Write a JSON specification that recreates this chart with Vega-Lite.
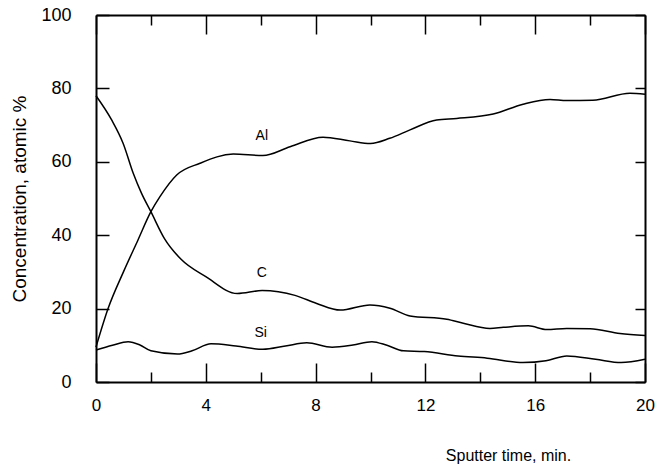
{
  "$schema": "https://vega.github.io/schema/vega-lite/v6.json",
  "autosize": "none",
  "width": 549,
  "height": 367,
  "padding": {"left": 96, "top": 15, "right": 13, "bottom": 83},
  "background": "white",
  "config": {
    "view": {"stroke": null},
    "axis": {
      "grid": false,
      "domainColor": "black",
      "domainWidth": 2,
      "tickColor": "black",
      "tickWidth": 1.5,
      "labelColor": "black",
      "labelFont": "Liberation Sans",
      "labelFontSize": 17,
      "titleFont": "Liberation Sans",
      "titleColor": "black",
      "titleFontWeight": "normal",
      "titleFontSize": 16
    }
  },
  "datasets": {
    "curves": [
      {"element": "Al", "t": 0, "c": 9.5},
      {"element": "Al", "t": 0.44, "c": 20},
      {"element": "Al", "t": 1.0, "c": 30},
      {"element": "Al", "t": 1.53, "c": 38.7},
      {"element": "Al", "t": 2.0, "c": 46.4},
      {"element": "Al", "t": 2.33, "c": 50.5},
      {"element": "Al", "t": 2.94, "c": 56.4},
      {"element": "Al", "t": 3.79, "c": 59.6},
      {"element": "Al", "t": 5.0, "c": 62.1},
      {"element": "Al", "t": 6.08, "c": 61.7},
      {"element": "Al", "t": 7.07, "c": 64.1},
      {"element": "Al", "t": 8.27, "c": 66.7},
      {"element": "Al", "t": 9.25, "c": 65.7},
      {"element": "Al", "t": 10.0, "c": 65.0},
      {"element": "Al", "t": 10.7, "c": 66.4},
      {"element": "Al", "t": 11.44, "c": 68.7},
      {"element": "Al", "t": 12.41, "c": 71.4},
      {"element": "Al", "t": 13.14, "c": 71.8},
      {"element": "Al", "t": 14.47, "c": 73.0},
      {"element": "Al", "t": 15.56, "c": 75.7},
      {"element": "Al", "t": 16.54, "c": 77.0},
      {"element": "Al", "t": 17.15, "c": 76.7},
      {"element": "Al", "t": 18.1, "c": 76.8},
      {"element": "Al", "t": 19.45, "c": 78.7},
      {"element": "Al", "t": 20, "c": 78.4},
      {"element": "C", "t": 0, "c": 78},
      {"element": "C", "t": 0.57, "c": 71.4},
      {"element": "C", "t": 0.99, "c": 65},
      {"element": "C", "t": 1.36, "c": 56.8},
      {"element": "C", "t": 1.66, "c": 51.4},
      {"element": "C", "t": 2.0, "c": 46.4},
      {"element": "C", "t": 2.5, "c": 39},
      {"element": "C", "t": 3.09, "c": 33.5},
      {"element": "C", "t": 4.0, "c": 28.7},
      {"element": "C", "t": 5.15, "c": 24.1},
      {"element": "C", "t": 6.05, "c": 24.9},
      {"element": "C", "t": 7.25, "c": 23.6},
      {"element": "C", "t": 8.04, "c": 21.4},
      {"element": "C", "t": 8.9, "c": 19.6},
      {"element": "C", "t": 9.98, "c": 21.0},
      {"element": "C", "t": 10.71, "c": 20.1},
      {"element": "C", "t": 11.44, "c": 18.0},
      {"element": "C", "t": 12.78, "c": 17.1},
      {"element": "C", "t": 13.38, "c": 16.0},
      {"element": "C", "t": 14.35, "c": 14.6},
      {"element": "C", "t": 14.84, "c": 14.9},
      {"element": "C", "t": 15.75, "c": 15.3},
      {"element": "C", "t": 16.42, "c": 14.3},
      {"element": "C", "t": 17.15, "c": 14.6},
      {"element": "C", "t": 18.0, "c": 14.5},
      {"element": "C", "t": 19.09, "c": 13.2},
      {"element": "C", "t": 20, "c": 12.7},
      {"element": "Si", "t": 0, "c": 8.7},
      {"element": "Si", "t": 0.6, "c": 10},
      {"element": "Si", "t": 1.17, "c": 11.0},
      {"element": "Si", "t": 1.6, "c": 10.1},
      {"element": "Si", "t": 2.0, "c": 8.5},
      {"element": "Si", "t": 2.97, "c": 7.6},
      {"element": "Si", "t": 3.5, "c": 8.5},
      {"element": "Si", "t": 4.19, "c": 10.4},
      {"element": "Si", "t": 5.1, "c": 9.8},
      {"element": "Si", "t": 6.08, "c": 8.9},
      {"element": "Si", "t": 6.9, "c": 9.8},
      {"element": "Si", "t": 7.68, "c": 10.7},
      {"element": "Si", "t": 8.6, "c": 9.5},
      {"element": "Si", "t": 9.36, "c": 10.1},
      {"element": "Si", "t": 10.05, "c": 11.0},
      {"element": "Si", "t": 10.6, "c": 10},
      {"element": "Si", "t": 11.2, "c": 8.5},
      {"element": "Si", "t": 11.96, "c": 8.3},
      {"element": "Si", "t": 13.19, "c": 7.1},
      {"element": "Si", "t": 14.25, "c": 6.5},
      {"element": "Si", "t": 15.55, "c": 5.3},
      {"element": "Si", "t": 16.39, "c": 5.8},
      {"element": "Si", "t": 17.15, "c": 7.1},
      {"element": "Si", "t": 18.2, "c": 6.2},
      {"element": "Si", "t": 19.13, "c": 5.3},
      {"element": "Si", "t": 20, "c": 6.2}
    ],
    "labels": [
      {"element": "Al", "t": 6.04, "c": 67},
      {"element": "C", "t": 6.04, "c": 29.8},
      {"element": "Si", "t": 6.0, "c": 13.3}
    ]
  },
  "layer": [
    {
      "data": {"name": "curves"},
      "mark": {"type": "line", "interpolate": "monotone", "color": "black", "strokeWidth": 1.5},
      "encoding": {
        "x": {
          "field": "t", "type": "quantitative",
          "scale": {"domain": [0, 20], "nice": false, "zero": false},
          "axis": {
            "orient": "bottom",
            "values": [0, 2, 4, 6, 8, 10, 12, 14, 16, 18, 20],
            "labelExpr": "datum.value % 4 === 0 ? datum.label : ''",
            "tickSize": {"condition": {"test": "datum.value % 4 === 0", "value": -19}, "value": -10},
            "labelPadding": 34,
            "labelFlush": false,
            "title": "Sputter time,  min.",
            "titleX": 412,
            "titleY": 73,
            "titleAlign": "center",
            "titleBaseline": "middle",
            "titleFontSize": 16
          }
        },
        "y": {
          "field": "c", "type": "quantitative",
          "scale": {"domain": [0, 100], "nice": false},
          "axis": {
            "orient": "left",
            "values": [0, 20, 40, 60, 80, 100],
            "tickSize": -13,
            "labelPadding": 38,
            "labelFontSize": 18,
            "labelFlush": false,
            "title": "Concentration,  atomic %",
            "titleX": -77,
            "titleY": 183.5,
            "titleAlign": "center",
            "titleBaseline": "middle",
            "titleFontSize": 19
          }
        },
        "detail": {"field": "element", "type": "nominal"}
      }
    },
    {
      "data": {"name": "labels"},
      "mark": {"type": "text", "font": "Liberation Sans", "fontSize": 14, "color": "black"},
      "encoding": {
        "x": {
          "field": "t", "type": "quantitative",
          "axis": {
            "orient": "top",
            "values": [0, 2, 4, 6, 8, 10, 12, 14, 16, 18, 20],
            "tickSize": {"condition": {"test": "datum.value % 4 === 0", "value": -19}, "value": -10},
            "labels": false,
            "title": null
          }
        },
        "y": {
          "field": "c", "type": "quantitative",
          "axis": {
            "orient": "right",
            "values": [0, 20, 40, 60, 80, 100],
            "tickSize": -10,
            "labels": false,
            "title": null
          }
        },
        "text": {"field": "element", "type": "nominal"}
      }
    }
  ],
  "resolve": {"axis": {"x": "independent", "y": "independent"}}
}
